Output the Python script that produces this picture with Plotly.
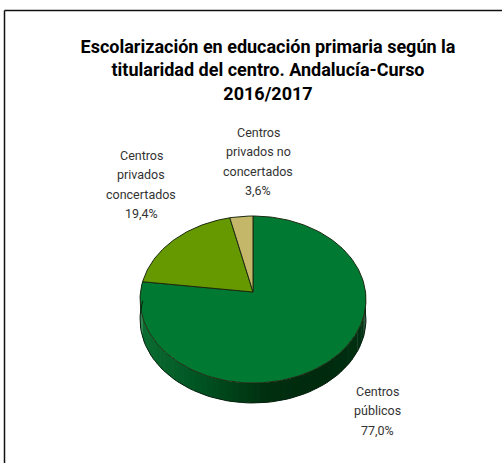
import math
import plotly.graph_objects as go

TITLE = "<b>Escolarización en educación primaria según la<br>titularidad del centro. Andalucía-Curso<br>2016/2017</b>"
categories = ["Centros públicos", "Centros privados concertados", "Centros privados no concertados"]
label_lines = [["Centros", "públicos", "77,0%"], ["Centros", "privados", "concertados", "19,4%"], ["Centros", "privados no", "concertados", "3,6%"]]
values = [77.0, 19.4, 3.6]
slice_colors = ["#007a33", "#669900", "#c4b76a"]
label_pos = [(377, 391), (141, 155), (258, 132)]
LINE_GAP = 19.5

CX, CY = 253, 292
C, A, B, DEPTH = 112.5, 82.8, 0.0898, 20
FONT = "Roboto"


def project(frac, dy=0):
    t = 2 * math.pi * frac
    u, v = math.sin(t), math.cos(t)
    d = 1 + B * v
    return CX + C * u / d, CY - A * v / d + dy


def wall_color(x):
    p = (x - (CX - 113)) / 226
    stops = [(0, (12, 110, 50)), (0.25, (0, 85, 35)), (0.55, (0, 48, 16)), (0.8, (0, 42, 14)), (1, (0, 50, 18))]
    for (p0, c0), (p1, c1) in zip(stops, stops[1:]):
        if p <= p1:
            f = max(0, (p - p0) / (p1 - p0))
            return "rgb(%d,%d,%d)" % tuple(c0[i] + f * (c1[i] - c0[i]) for i in range(3))
    return "rgb(0,50,18)"


fig = go.Figure()

# side wall: visible lower half of the rim, in shaded bands
N = 60
start = 0.245
end = 0.772
for i in range(N):
    a = start + (end - start) * i / N
    b = start + (end - start) * (i + 1.15) / N
    p1, p2 = project(a), project(b)
    p3, p4 = project(b, DEPTH), project(a, DEPTH)
    fig.add_trace(go.Scatter(
        x=[p1[0], p2[0], p3[0], p4[0], p1[0]], y=[p1[1], p2[1], p3[1], p4[1], p1[1]],
        mode="lines", fill="toself", line=dict(width=0), fillcolor=wall_color((p1[0] + p2[0]) / 2),
        hoverinfo="skip", showlegend=False))

# slices, clockwise from the top
total = sum(values)
acc = 0
for name, val, col in zip(categories, values, slice_colors):
    f0, f1 = acc / total, (acc + val) / total
    n = max(4, int(val * 3))
    pts = [project(f0 + (f1 - f0) * k / n) for k in range(n + 1)]
    xs = [CX] + [p[0] for p in pts] + [CX]
    ys = [CY] + [p[1] for p in pts] + [CY]
    fig.add_trace(go.Scatter(x=xs, y=ys, mode="lines", fill="toself", fillcolor=col,
                             line=dict(color="#1c2a10", width=1), name=name,
                             hoverinfo="name", showlegend=False))
    acc += val

# outline of wall
pts = [project(start + (end - start) * k / 80, DEPTH) for k in range(81)]
fig.add_trace(go.Scatter(x=[p[0] for p in pts], y=[p[1] for p in pts], mode="lines",
                         line=dict(color="#06200f", width=1), hoverinfo="skip", showlegend=False))

for lines, (x, y) in zip(label_lines, label_pos):
    for k, line in enumerate(lines):
        fig.add_annotation(x=x, y=y + k * LINE_GAP, text=line, showarrow=False, xref="x", yref="y",
                           font=dict(family=FONT, size=12.5, color="#333333"), align="center")

fig.add_shape(type="line", xref="x", yref="y", x0=4.5, y0=10.5, x1=502, y1=10.5,
              line=dict(color="#111111", width=1.5))
fig.add_shape(type="line", xref="x", yref="y", x0=4.5, y0=10.5, x1=4.5, y1=463,
              line=dict(color="#111111", width=1.5))

fig.update_layout(
    width=502, height=463, margin=dict(l=0, r=0, t=0, b=0),
    paper_bgcolor="white", plot_bgcolor="white",
    title=dict(text=TITLE, x=268 / 502, xanchor="center", y=1 - 53 / 463, yanchor="top",
               font=dict(family="Roboto", size=18, color="black")),
    xaxis=dict(range=[0, 502], visible=False, fixedrange=True),
    yaxis=dict(range=[463, 0], visible=False, fixedrange=True),
)
fig.write_html("out.html", config=dict(displayModeBar=False),
               post_script="document.body.style.margin='0';document.body.style.overflow='hidden';")
